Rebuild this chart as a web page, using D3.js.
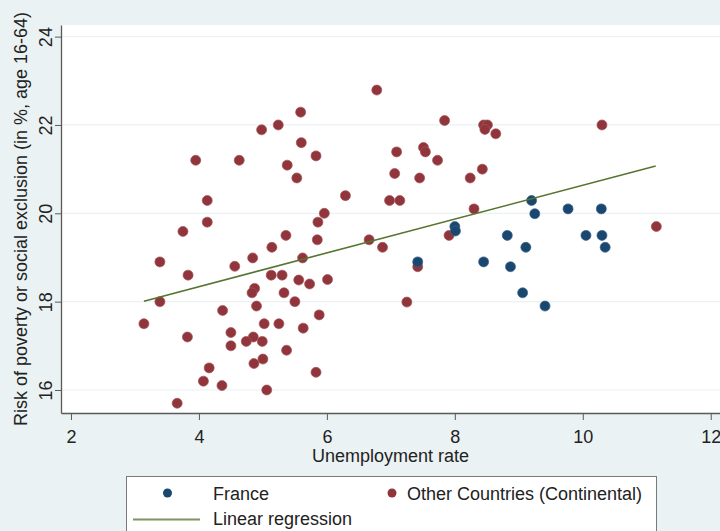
<!DOCTYPE html>
<html>
<head>
<meta charset="utf-8">
<script src="https://cdn.jsdelivr.net/npm/d3@7"></script>
<style>
  body { margin: 0; background: #eaf2f3; }
  svg { display: block; font-family: "Liberation Sans", Arial, sans-serif; }
  .axis path, .axis line { stroke: #5a5a5a; }
  .axis text { fill: #222; font-size: 18px; }
</style>
</head>
<body>
<svg id="chart" width="720" height="531"></svg>
<script>
// France
var franceX = [9.20, 9.25, 9.77, 10.29, 8.00, 8.01, 8.82, 10.05, 10.30, 9.11, 10.35, 7.42, 8.45, 8.87, 9.06, 9.41];
var franceY = [20.29, 19.99, 20.10, 20.10, 19.70, 19.60, 19.50, 19.50, 19.50, 19.23, 19.23, 18.90, 18.90, 18.79, 18.20, 17.90];

// Other Countries (Continental)
var otherX = [5.59, 4.98, 5.24, 5.60, 5.83, 3.95, 4.63, 5.38, 5.53, 6.29, 4.13, 5.96, 5.86, 4.13, 3.75, 5.36, 5.85, 5.14, 6.66,
    3.39, 3.83, 4.56, 4.84, 5.62, 5.13, 5.30, 5.56, 5.73, 6.01, 4.87, 4.83, 5.33, 5.50, 3.39, 3.14, 4.90, 4.37, 5.88, 5.02,
    5.25, 5.63, 4.50, 3.82, 4.85, 4.74, 4.99, 4.50, 5.37, 5.00, 4.86, 4.16, 5.83, 4.07, 4.36, 5.06, 3.66,
    6.78, 7.84, 8.45, 8.51, 8.47, 8.64, 10.30, 7.09, 7.51, 7.54, 7.73, 7.06, 7.45, 8.24, 8.43, 6.98, 7.14, 8.30,
    11.15, 7.91, 6.87, 7.42, 7.25];
var otherY = [22.29, 21.89, 22.00, 21.60, 21.30, 21.20, 21.20, 21.09, 20.80, 20.40, 20.29, 20.00, 19.80, 19.80, 19.59, 19.50, 19.40, 19.23, 19.40,
    18.90, 18.60, 18.80, 18.99, 18.99, 18.60, 18.60, 18.49, 18.40, 18.50, 18.30, 18.20, 18.20, 18.00, 18.00, 17.50, 17.90, 17.80, 17.70, 17.50,
    17.50, 17.40, 17.30, 17.20, 17.20, 17.10, 17.10, 17.00, 16.90, 16.70, 16.60, 16.50, 16.40, 16.20, 16.10, 16.00, 15.70,
    22.79, 22.10, 22.00, 22.00, 21.90, 21.80, 22.00, 21.39, 21.49, 21.39, 21.20, 20.90, 20.80, 20.80, 21.00, 20.29, 20.29, 20.10,
    19.70, 19.50, 19.23, 18.79, 17.99];

// fitted line end points
var fitX = [3.14, 11.14];
var fitY = [18.01, 21.07];

var xTicks = [2, 4, 6, 8, 10, 12];
var yTicks = [16, 18, 20, 22, 24];

var svg = d3.select("#chart");
var plotLeft = 61, plotRight = 720, plotTop = 25, plotBottom = 413;

var x = d3.scaleLinear().domain([1.844, 12.145]).range([plotLeft, plotRight]);
var y = d3.scaleLinear().domain([15.479, 24.263]).range([plotBottom, plotTop]);

// plot region
svg.append("rect")
    .attr("x", plotLeft).attr("y", plotTop)
    .attr("width", plotRight - plotLeft).attr("height", plotBottom - plotTop)
    .attr("fill", "#ffffff");

// gridlines
svg.append("g").selectAll("line").data(yTicks)
    .enter().append("line")
    .attr("x1", plotLeft).attr("x2", plotRight)
    .attr("y1", function (d) { return y(d); })
    .attr("y2", function (d) { return y(d); })
    .attr("stroke", "#eaf2f3")
    .attr("stroke-width", 1.2);

// axes
var xAxis = svg.append("g").attr("class", "axis")
    .attr("transform", "translate(0," + plotBottom + ")")
    .call(d3.axisBottom(x).tickValues(xTicks).tickSize(7).tickPadding(10).tickSizeOuter(0));
xAxis.select(".domain").attr("stroke-width", 1.3);

var yAxis = svg.append("g").attr("class", "axis")
    .attr("transform", "translate(" + plotLeft + ",0)")
    .call(d3.axisLeft(y).tickValues(yTicks).tickSize(6).tickSizeOuter(0));
yAxis.select(".domain").attr("stroke-width", 1.3);
yAxis.selectAll(".tick text")
    .attr("x", null).attr("dy", null)
    .attr("text-anchor", "middle")
    .attr("transform", "translate(-9,0) rotate(-90)");

// axis titles
svg.append("text")
    .attr("transform", "translate(27," + ((plotTop + plotBottom) / 2) + ") rotate(-90)")
    .attr("text-anchor", "middle")
    .attr("font-size", 18).attr("fill", "#222")
    .text("Risk of poverty or social exclusion (in %, age 16-64)");

svg.append("text")
    .attr("x", (plotLeft + plotRight) / 2).attr("y", 462)
    .attr("text-anchor", "middle")
    .attr("font-size", 18).attr("fill", "#222")
    .text("Unemployment rate");

// points
svg.append("g").selectAll("circle").data(otherX)
    .enter().append("circle")
    .attr("cx", function (d) { return x(d); })
    .attr("cy", function (d, i) { return y(otherY[i]); })
    .attr("r", 5)
    .attr("fill", "#90353b")
    .attr("stroke", "#a3555a").attr("stroke-width", 0.7);

svg.append("g").selectAll("circle").data(franceX)
    .enter().append("circle")
    .attr("cx", function (d) { return x(d); })
    .attr("cy", function (d, i) { return y(franceY[i]); })
    .attr("r", 5)
    .attr("fill", "#1a476f")
    .attr("stroke", "#3a6288").attr("stroke-width", 0.7);

// regression line
svg.append("line")
    .attr("x1", x(fitX[0])).attr("y1", y(fitY[0]))
    .attr("x2", x(fitX[1])).attr("y2", y(fitY[1]))
    .attr("stroke", "#55752f").attr("stroke-width", 1.6);

// legend
var lg = svg.append("g");
lg.append("rect")
    .attr("x", 126.5).attr("y", 476.5)
    .attr("width", 530).attr("height", 70)
    .attr("fill", "#ffffff").attr("stroke", "#7a7a7a").attr("stroke-width", 1);
lg.append("circle").attr("cx", 167.5).attr("cy", 493).attr("r", 4.5).attr("fill", "#1a476f");
lg.append("text").attr("x", 213).attr("y", 500).attr("font-size", 18).attr("fill", "#222").text("France");
lg.append("circle").attr("cx", 392).attr("cy", 493).attr("r", 4.5).attr("fill", "#90353b");
lg.append("text").attr("x", 407).attr("y", 500).attr("font-size", 18).attr("fill", "#222").text("Other Countries (Continental)");
lg.append("line").attr("x1", 133).attr("x2", 200).attr("y1", 519.5).attr("y2", 519.5)
    .attr("stroke", "#7f9460").attr("stroke-width", 2);
lg.append("text").attr("x", 213).attr("y", 525).attr("font-size", 18).attr("fill", "#222").text("Linear regression");
</script>
</body>
</html>
